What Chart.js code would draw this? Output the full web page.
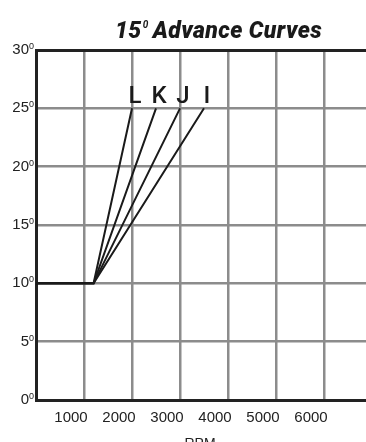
<!DOCTYPE html>
<html>
<head>
<meta charset="utf-8">
<script src="https://cdn.jsdelivr.net/npm/chart.js@4"></script>
<style>
  html, body { margin: 0; padding: 0; background: #fff; }
  #wrap { width: 366px; height: 442px; position: relative; }
</style>
</head>
<body>
<div id="wrap"><canvas id="adv"></canvas></div>
<script>
// advance curves, degrees vs rpm
const curveNames = ['L', 'K', 'J', 'I'];
const rpmStart = [0, 1200];
const degStart = [10, 10];
const rpmEnd = [2000, 2500, 3000, 3500];
const degEnd = [25, 25, 25, 25];
const yTicks = [0, 5, 10, 15, 20, 25, 30];
const xTicks = [1000, 2000, 3000, 4000, 5000, 6000];

const datasets = curveNames.map(function(name, i) {
    return {
        label: name,
        data: [
            {x: rpmStart[0], y: degStart[0]},
            {x: rpmStart[1], y: degStart[1]},
            {x: rpmEnd[i], y: degEnd[i]}
        ],
        borderColor: '#1a1a1a',
        borderWidth: 2,
        pointRadius: 0,
        fill: false,
        tension: 0
    };
});

const tickFont = '"Liberation Sans", Arial, sans-serif';

// letters over the end of each line, title, degree marks and RPM label
const extras = {
    id: 'extras',
    afterDatasetsDraw(chart) {
        const c = chart.ctx;
        c.save();
        c.fillStyle = '#1a1a1a';
        c.textAlign = 'center';
        c.textBaseline = 'alphabetic';
        c.font = '500 24px Roboto, "Liberation Sans", sans-serif';
        chart.data.datasets.forEach(function(ds, i) {
            const pt = chart.getDatasetMeta(i).data[2];
            c.fillText(ds.label, pt.x + 3, pt.y - 5);
        });

        // title: 15 + small superscript 0 + rest
        c.textAlign = 'left';
        c.font = 'italic 900 23px Roboto, "Liberation Sans", sans-serif';
        c.letterSpacing = '0.4px';
        let x = 115;
        c.fillText('15', x, 38);
        x += c.measureText('15').width + 1;
        c.font = 'italic 700 10px Roboto, "Liberation Sans", sans-serif';
        c.fillText('0', x, 28);
        x += 10;
        c.font = 'italic 900 23px Roboto, "Liberation Sans", sans-serif';
        c.fillText('Advance Curves', x, 38);
        c.letterSpacing = '0px';

        // small degree zero after each y tick label
        const ys = chart.scales.y;
        c.font = '9px ' + tickFont;
        c.fillStyle = '#222';
        ys.ticks.forEach(function(t) {
            const py = ys.getPixelForValue(t.value);
            c.fillText('0', 29, py - 1);
        });

        c.textAlign = 'center';
        c.textBaseline = 'top';
        c.font = '14px ' + tickFont;
        c.fillText('RPM', 200, 437);
        c.restore();
    }
};

const chart = new Chart(document.getElementById('adv'), {
    type: 'line',
    data: { datasets: datasets },
    plugins: [extras],
    options: {
        responsive: true,
        maintainAspectRatio: false,
        animation: false,
        layout: { padding: { top: 50, right: 0, left: 0, bottom: 0 } },
        plugins: { legend: { display: false }, tooltip: { enabled: false } },
        scales: {
            x: {
                type: 'linear',
                min: 0,
                max: 6875,
                afterBuildTicks: function(s) {
                    s.ticks = xTicks.map(function(v) { return {value: v}; });
                },
                afterFit: function(s) { s.height = 42; },
                grid: { color: '#8c8c8c', lineWidth: 2.5, drawTicks: false },
                border: { color: '#222', width: 3 },
                ticks: {
                    color: '#222',
                    padding: 9,
                    labelOffset: -13,
                    maxRotation: 0,
                    font: { family: tickFont, size: 15 },
                    callback: function(v) { return String(v); }
                }
            },
            y: {
                min: 0,
                max: 30,
                afterBuildTicks: function(s) {
                    s.ticks = yTicks.map(function(v) { return {value: v}; });
                },
                afterFit: function(s) { s.width = 36; },
                grid: {
                    color: function(ctx) { return ctx.tick && ctx.tick.value === 30 ? '#222' : '#8c8c8c'; },
                    lineWidth: function(ctx) { return ctx.tick && ctx.tick.value === 30 ? 3 : 2.5; },
                    drawTicks: false
                },
                border: { color: '#222', width: 3 },
                ticks: {
                    color: '#222',
                    padding: 7,
                    font: { family: tickFont, size: 15 },
                    callback: function(v) { return String(v); }
                }
            }
        }
    }
});
</script>
</body>
</html>
